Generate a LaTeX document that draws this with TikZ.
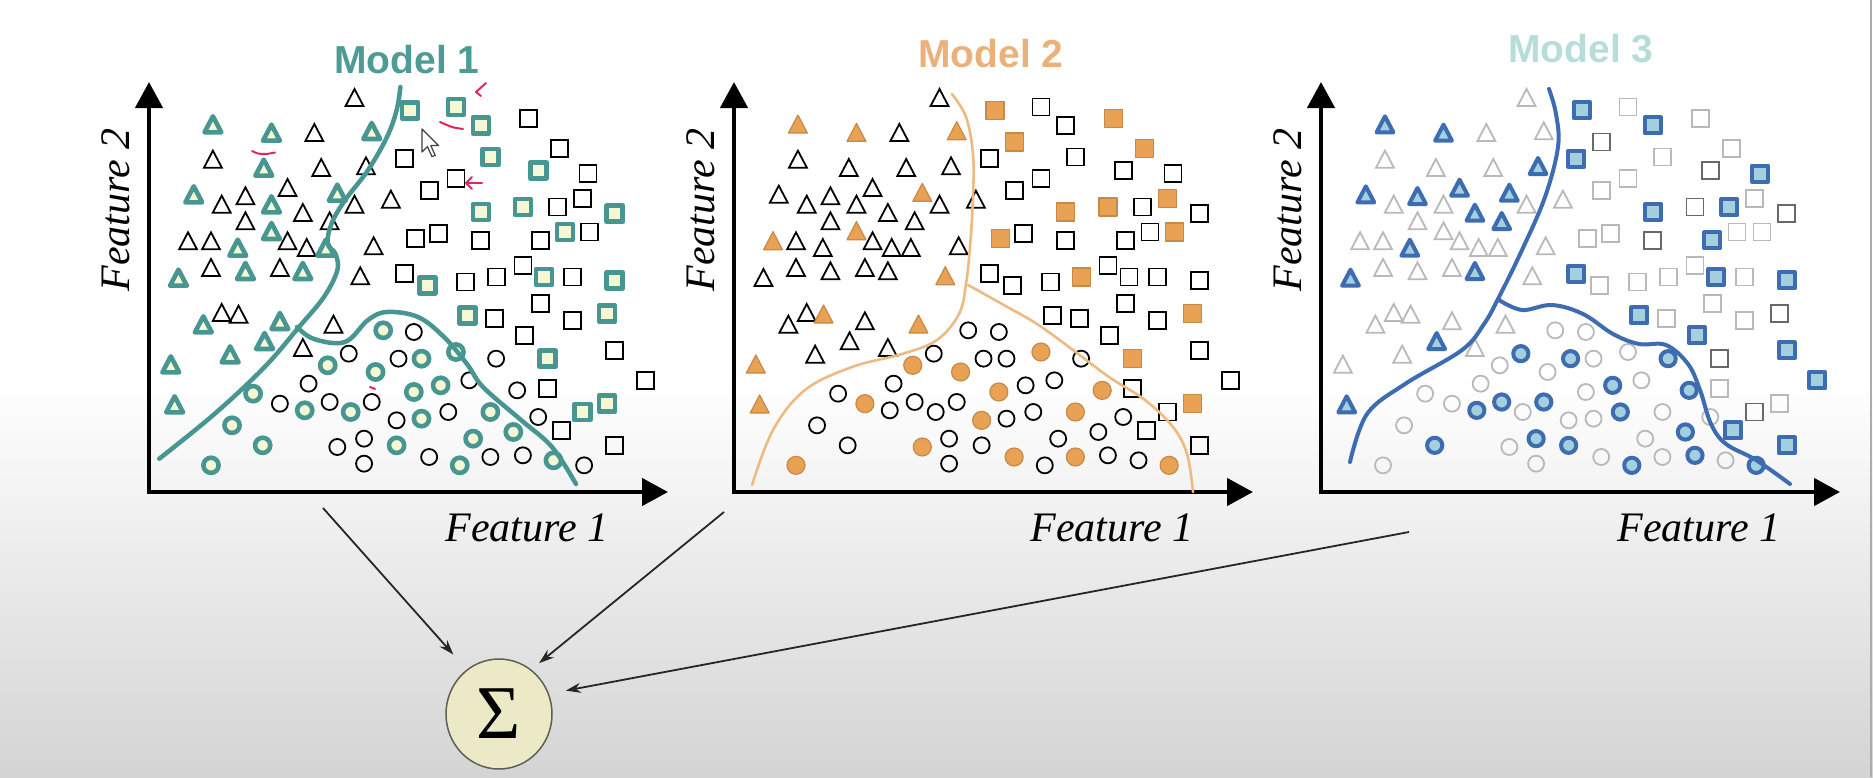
\documentclass[tikz,border=0pt]{standalone}
\usepackage{fontspec}
\setmainfont{Liberation Serif}
\setsansfont{Liberation Sans}
\usetikzlibrary{arrows.meta,shapes.geometric}
\definecolor{tealA}{RGB}{72,150,146}
\definecolor{tealT}{RGB}{78,155,150}
\definecolor{paleA}{RGB}{246,248,212}
\definecolor{orgF}{RGB}{233,161,84}
\definecolor{orgL}{RGB}{237,186,132}
\definecolor{orgT}{RGB}{234,178,122}
\definecolor{bluA}{RGB}{62,108,176}
\definecolor{bluF}{RGB}{164,207,222}
\definecolor{bluT}{RGB}{182,221,216}
\definecolor{lgray}{RGB}{185,185,185}
\definecolor{dgray}{RGB}{105,105,105}
\definecolor{sigF}{RGB}{236,234,198}
\definecolor{sigD}{RGB}{95,95,85}
\definecolor{bgB}{RGB}{212,212,212}
\definecolor{redM}{RGB}{222,40,90}
\newcommand\Tri[4]{\path[#3] (#1,#2) ++(-1.05*#4pt,-0.667*#4pt) -- ++(2.1*#4pt,0pt) -- ++(-1.05*#4pt,2*#4pt) -- cycle;}
\newcommand\Sq[4]{\path[#3] (#1,#2) ++(-#4pt,-#4pt) rectangle ++(2*#4pt,2*#4pt);}
\newcommand\Ci[4]{\path[#3] (#1,#2) circle[radius=#4pt];}
\tikzset{
  plain/.style={draw=black, line width=1.8pt},
  hlA/.style={draw=tealA, fill=paleA, line width=4.6pt, line join=round},
  hlB/.style={draw=orgF!85!black, fill=orgF, line width=1.2pt, line join=round},
  hlC/.style={draw=bluA, fill=bluF, line width=4pt, line join=round},
  ltC/.style={draw=lgray, line width=1.8pt},
  dkC/.style={draw=dgray, line width=1.8pt},
  axis/.style={line width=4.5pt, line join=miter, {Triangle[width=27pt,length=26pt]}-{Triangle[width=27pt,length=26pt]}},
  bndA/.style={draw=tealA, line width=4.5pt, line cap=round},
  bndB/.style={draw=orgL, line width=2.6pt, line cap=round},
  bndC/.style={draw=bluA, line width=4pt, line cap=round},
  title/.style={font=\sffamily\bfseries\fontsize{39}{44}\selectfont, anchor=base, inner sep=0pt},
  flab/.style={font=\itshape\fontsize{42}{46}\selectfont, anchor=base, inner sep=0pt},
  conn/.style={draw=black!85, line width=1.8pt, -{Stealth[length=15pt,width=10pt]}},
  redmark/.style={draw=redM, line width=2pt, line cap=round, line join=round},
}
\begin{document}
\begin{tikzpicture}[x=1pt,y=-1pt]
\useasboundingbox (0,0) rectangle (1873,777);
\fill[white] (0,0) rectangle (1873,777);
\shade[top color=white, bottom color=bgB] (0,380) rectangle (1873,777);
\draw[gray!65, line width=2.5pt] (1871,0) -- (1871,777);

% axes
\foreach \ox in {149,734,1321}{
  \draw[axis] (\ox,82) -- (\ox,492) -- (\ox+519,492);
}

% titles and axis labels
\node[title, text=tealT] (m1) at (407,73) {Model 1};
\node[title, text=orgT] (m2) at (991,67) {Model 2};
\node[title, text=bluT] (m3) at (1581,62) {Model 3};
\node[flab] (fxa) at (527,541) {Feature 1};
\node[flab] (fxb) at (1112,541) {Feature 1};
\node[flab] (fxc) at (1699,541) {Feature 1};
\node[flab, rotate=90] (fya) at (129,210) {Feature 2};
\node[flab, rotate=90] (fyb) at (714,210) {Feature 2};
\node[flab, rotate=90] (fyc) at (1301,210) {Feature 2};

% data points (coordinates of the first panel; other panels shifted)
\def\dxB{1528.6}\def\dxC{3062.5}
\begin{scope}[x=0.3827pt, y=-0.33333pt, xshift=100.01pt, yshift=-30.33pt]
\foreach \px/\py/\fa/\fb/\fc in {
665/210/0/0/0, 295/290/1/1/1, 448/315/1/1/1, 560/315/0/0/0, 710/310/1/1/0,
295/395/0/0/0, 428/420/1/0/0, 578/420/0/0/0, 695/415/0/0/1, 245/500/1/0/1,
318/530/0/0/0, 380/505/0/0/1, 490/480/0/0/1, 448/530/1/0/0, 530/555/0/0/1,
620/495/1/1/1, 665/530/0/0/0, 760/515/0/0/0, 380/580/0/0/0, 600/580/0/0/1,
230/640/0/1/0, 290/640/0/0/0, 360/660/1/0/1, 448/610/1/1/0, 490/640/0/0/0,
540/660/0/0/0, 590/660/1/0/0, 715/655/0/0/0, 290/720/0/0/0, 380/730/1/0/0,
470/720/0/0/0, 530/730/1/0/1, 205/750/1/0/1, 680/745/0/1/0, 318/855/0/0/0,
362/860/0/1/0, 270/890/1/0/0, 470/880/1/0/0, 610/890/0/1/0, 430/940/1/0/1,
530/960/0/0/0, 340/980/1/0/0, 185/1010/1/1/0, 195/1130/1/1/1}{
  \ifcase\fa\relax \Tri{\px}{\py}{plain}{8.5}\or \Tri{\px}{\py}{hlA}{8}\fi
  \ifcase\fb\relax \Tri{\px+\dxB}{\py}{plain}{8.5}\or \Tri{\px+\dxB}{\py}{hlB}{9}\fi
  \ifcase\fc\relax \Tri{\px+\dxC}{\py}{ltC}{8.5}\or \Tri{\px+\dxC}{\py}{hlC}{8}\or \Tri{\px+\dxC}{\py}{dkC}{8.5}\fi
}
\foreach \px/\py/\fa/\fb/\fc in {
810/240/1/1/1, 930/230/1/0/0, 1120/265/0/1/0, 995/285/1/0/1, 860/335/3/1/2,
795/385/0/0/1, 1200/355/0/1/0, 1020/380/1/0/0, 1145/420/1/0/2, 930/445/0/0/0,
1275/430/0/0/1, 860/480/0/0/0, 995/545/1/1/1, 1105/530/1/1/2, 1195/530/0/0/1,
1260/505/0/1/0, 1345/550/1/0/2, 825/625/0/1/0, 885/610/0/0/0, 995/630/0/0/2,
1150/630/0/0/1, 1215/605/1/0/0, 1280/605/0/1/0, 795/730/0/0/1, 855/765/1/0/0,
955/755/0/0/0, 1035/740/0/1/0, 1105/705/0/0/0, 1160/740/1/0/1, 1235/740/0/0/0,
1345/750/1/0/1, 960/855/1/0/1, 1030/865/0/0/0, 1150/820/0/0/0, 1235/870/0/0/0,
1325/850/1/1/2, 1110/915/0/0/1, 1345/960/0/0/1, 1170/985/1/1/2, 1425/1050/0/0/1,
1170/1075/0/0/0, 1325/1120/1/1/0, 1260/1145/1/0/2, 1205/1200/0/0/1, 1345/1245/0/0/1}{
  \ifcase\fa\relax \Sq{\px}{\py}{plain}{8.5}\or \Sq{\px}{\py}{hlA}{8}\fi
  \ifcase\fb\relax \Sq{\px+\dxB}{\py}{plain}{8.5}\or \Sq{\px+\dxB}{\py}{hlB}{9}\fi
  \ifcase\fc\relax \Sq{\px+\dxC}{\py}{ltC}{8.5}\or \Sq{\px+\dxC}{\py}{hlC}{8}\or \Sq{\px+\dxC}{\py}{dkC}{8.5}\fi
}
\foreach \px/\py/\fa/\fb/\fc in {
740/900/1/0/0, 820/905/0/0/0, 650/970/0/0/1, 780/985/0/0/1, 840/985/1/0/0,
930/965/1/1/0, 1035/985/0/0/1, 595/1005/1/1/0, 720/1025/1/1/0, 545/1060/0/0/0,
890/1065/1/0/1, 965/1050/0/0/0, 820/1085/1/1/0, 1090/1080/0/1/1, 400/1090/1/0/0,
470/1120/0/1/0, 600/1115/0/0/1, 710/1115/0/0/1, 535/1140/1/0/1, 655/1145/1/0/0,
910/1145/0/0/1, 1020/1145/1/1/0, 775/1170/0/1/0, 840/1165/1/0/0, 1145/1160/0/0/0,
345/1185/1/0/0, 690/1225/0/0/1, 1080/1205/1/0/1, 425/1245/1/0/1, 620/1250/0/1/0,
775/1245/1/0/1, 975/1225/1/0/0, 860/1280/0/1/0, 1020/1280/0/1/0, 1105/1275/0/0/1,
1185/1290/1/0/0, 690/1300/0/0/0, 940/1305/1/0/1, 1265/1305/0/1/1, 290/1305/1/1/0}{
  \ifcase\fa\relax \Ci{\px}{\py}{plain}{8}\or \Ci{\px}{\py}{hlA}{7.6}\fi
  \ifcase\fb\relax \Ci{\px+\dxB}{\py}{plain}{8}\or \Ci{\px+\dxB}{\py}{hlB}{9}\fi
  \ifcase\fc\relax \Ci{\px+\dxC}{\py}{ltC}{8}\or \Ci{\px+\dxC}{\py}{hlC}{7.6}\or \Ci{\px+\dxC}{\py}{dkC}{8}\fi
}
\end{scope}

% decision boundaries (u right, v up from each panel origin)
\begin{scope}[shift={(149,492)}, x=1pt, y=1pt]
  \draw[bndA] plot[smooth, tension=0.6] coordinates {(10.3,33.3) (65.8,78.3) (115.6,125) (150,165) (174.9,195) (188.3,221.7) (186.4,238.3) (178.7,248.3) (182.5,268.3) (195.9,291.7) (218.9,321.7) (238,355) (247.6,381.7) (251.4,405)};
  \draw[bndA] plot[smooth, tension=0.6] coordinates {(148,165) (165,153) (196,150) (219,172) (238,180) (269,175) (295,155) (318,128) (334,105) (372,72) (403,45) (427,8)};
\end{scope}
\begin{scope}[shift={(734,492)}, x=1pt, y=1pt]
  \draw[bndB] plot[smooth, tension=0.6] coordinates {(18,7) (39,62) (71,102) (118,125) (168,138) (203,152) (225,178) (232,208) (236,245) (239,295) (239,338) (232,375) (218,398)};
  \draw[bndB] plot[smooth, tension=0.6] coordinates {(234,207) (268,188) (303,168) (339,142) (375,115) (411,92) (439,65) (453,38) (459,0)};
\end{scope}
\begin{scope}[shift={(1321,492)}, x=1pt, y=1pt]
  \draw[bndC] plot[smooth, tension=0.6] coordinates {(29,30) (46,78) (84,108) (141,142) (163,168) (178,195) (201,242) (224,295) (237,345) (235,378) (228,403)};
  \draw[bndC] plot[smooth, tension=0.6] coordinates {(178,192) (201,182) (231,187) (262,178) (292,158) (318,148) (345,147) (367,128) (379,102) (390,68) (405,48) (435,32) (469,8)};
\end{scope}

% annotations in the first panel
\draw[redmark] plot[smooth] coordinates {(252,151) (258,153.5) (266,154) (275,152.5)};
\draw[redmark] (486,83) -- (476,92) -- (481,96);
\draw[redmark] plot[smooth] coordinates {(440,122) (452,127) (463,129)};
\draw[redmark] (466,183) -- (482,183);
\draw[redmark] (472,177) -- (466,183) -- (472,189);
\draw[redmark] (370,387) -- (375,389);
\draw[fill=white, draw=black!75, line width=1.2pt, line join=round]
  (422,129) -- ++(0,23) -- ++(5.5,-5.4) -- ++(4.4,9.9) -- ++(3.3,-1.1) -- ++(-4.4,-9.9) -- ++(7.7,0) -- cycle;

% combination node and connectors
\node[ellipse, draw=sigD, line width=1.5pt, fill=sigF, minimum width=106pt, minimum height=110pt, inner sep=0pt] (sig) at (499,714) {\fontsize{76}{80}\selectfont Σ};
\coordinate (s1) at (323,508);
\coordinate (s2) at (724,512);
\coordinate (s3) at (1409,532);
\draw[conn, shorten >=20pt] (s1) -- (sig.126);
\draw[conn, shorten >=10pt] (s2) -- (sig.54);
\draw[conn, shorten >=17pt] (s3) -- (sig.22);
\end{tikzpicture}
\end{document}
